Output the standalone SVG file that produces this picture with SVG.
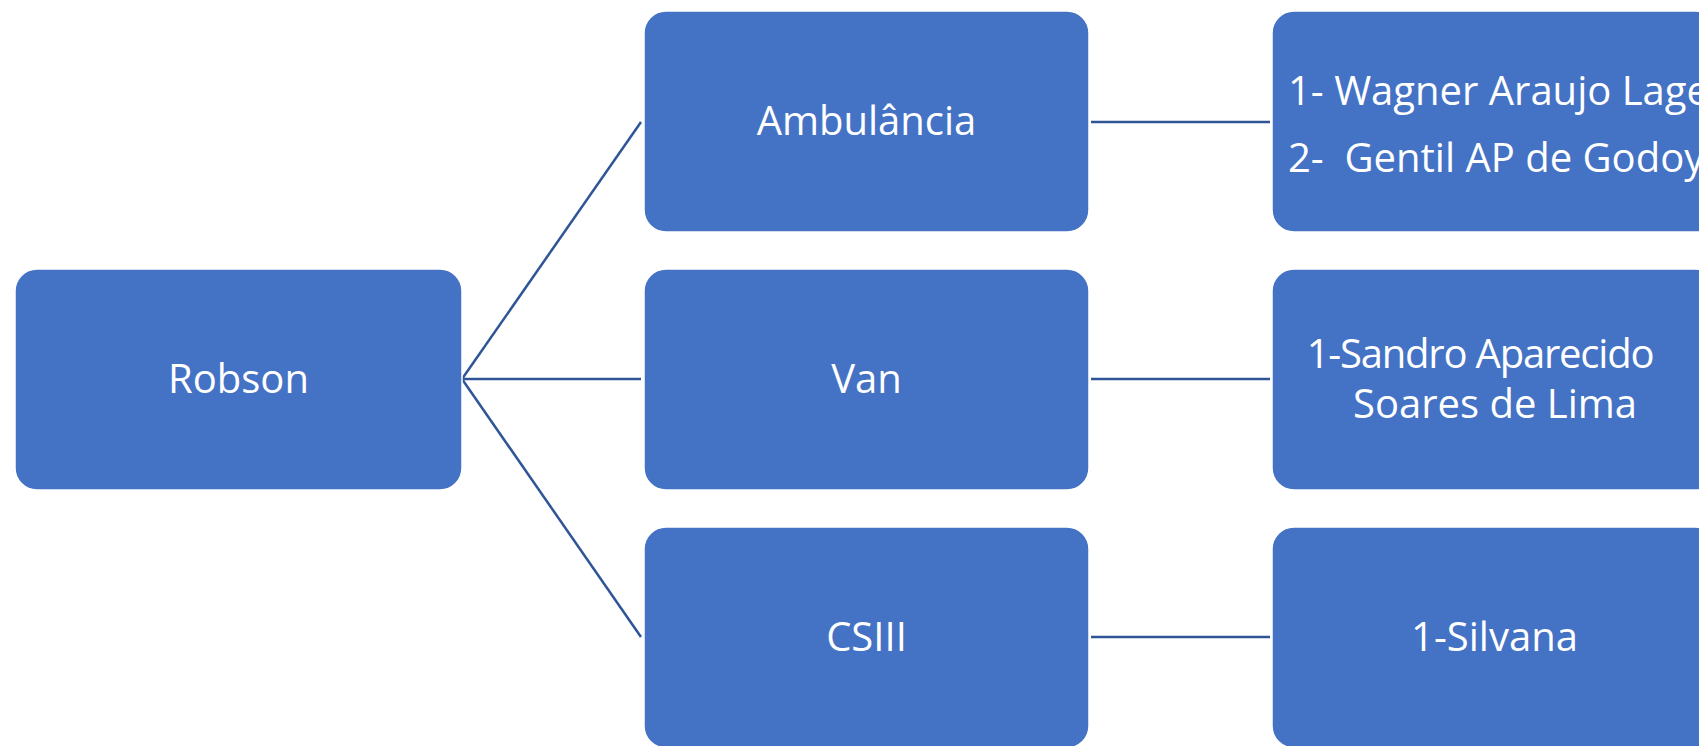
<svg xmlns="http://www.w3.org/2000/svg" width="1699" height="746" viewBox="0 0 1699 746">
<style>
.box{fill:#4472C4;stroke:#ffffff;stroke-width:1.5}
.t{fill:#ffffff;font-family:"Open Sans","Noto Sans","Liberation Sans",sans-serif;font-size:40px}
.c{text-anchor:middle}
.ln{stroke:#2F5597;stroke-width:2.5;fill:none}
</style>
<rect width="1699" height="746" fill="#ffffff"/>
<g id="connectors">
<line class="ln" x1="462" y1="379" x2="641" y2="122"/>
<line class="ln" x1="462" y1="379" x2="641" y2="379"/>
<line class="ln" x1="462" y1="379" x2="641" y2="637"/>
<line class="ln" x1="1091" y1="122" x2="1270" y2="122"/>
<line class="ln" x1="1091" y1="379" x2="1270" y2="379"/>
<line class="ln" x1="1091" y1="637" x2="1270" y2="637"/>
</g>
<g id="robson">
<rect class="box" x="15" y="269" width="447" height="221" rx="22"/>
<text class="t c" x="238.5" y="393">Robson</text>
</g>
<g id="ambulancia">
<rect class="box" x="644" y="11" width="445" height="221" rx="22"/>
<text class="t c" x="866.5" y="135">Ambulância</text>
</g>
<g id="van">
<rect class="box" x="644" y="269" width="445" height="221" rx="22"/>
<text class="t c" x="866.5" y="393">Van</text>
</g>
<g id="csiii">
<rect class="box" x="644" y="527" width="445" height="221" rx="22"/>
<text class="t c" x="866.5" y="651">CSIII</text>
</g>
<g id="ambulancia-staff">
<rect class="box" x="1272" y="11" width="445" height="221" rx="22"/>
<text class="t" x="1288" y="105">1- Wagner Araujo Lage</text>
<text class="t" x="1288" y="172" xml:space="preserve">2-  Gentil AP de Godoy</text>
</g>
<g id="van-staff">
<rect class="box" x="1272" y="269" width="445" height="221" rx="22"/>
<text class="t c" x="1480" y="368" letter-spacing="-1.2">1-Sandro Aparecido</text>
<text class="t c" x="1495" y="418">Soares de Lima</text>
</g>
<g id="csiii-staff">
<rect class="box" x="1272" y="527" width="445" height="221" rx="22"/>
<text class="t c" x="1494.5" y="651">1-Silvana</text>
</g>
</svg>
